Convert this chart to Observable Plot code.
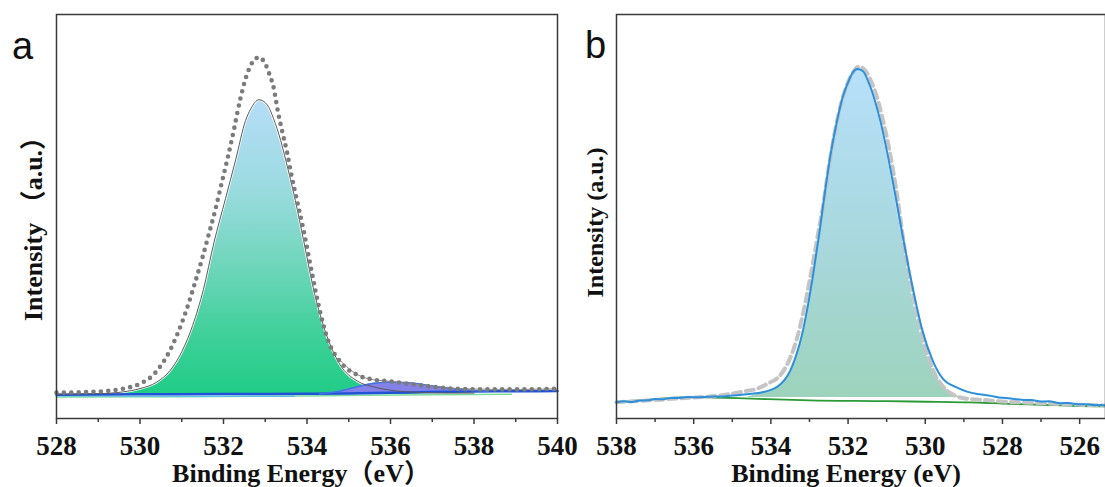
<!DOCTYPE html>
<html><head><meta charset="utf-8">
<script src="https://cdn.jsdelivr.net/npm/d3@7"></script>
<script src="https://cdn.jsdelivr.net/npm/@observablehq/plot@0.6"></script>
<style>
body{margin:0;background:#fff;}
#wrap{position:relative;width:1105px;height:487px;overflow:hidden;background:#fff;}
#wrap svg{position:absolute;top:0;overflow:visible;background:transparent;max-width:none;}
.lbl{position:absolute;font-family:"Liberation Sans",Arial,sans-serif;font-size:38px;line-height:1;color:#111;}
</style></head><body>
<div id="wrap"></div>
<script>
// ---------- Panel a data (y in arbitrary intensity units, frame 0..100) ----------
const aTicksMajor = [528, 530, 532, 534, 536, 538, 540];
const aTicksMinor = [529, 531, 533, 535, 537, 539];
const aXLabel = "Binding Energy（eV）";
const aYLabel = "Intensity （a.u.）";
// raw data (dotted)
const aRawX = [528.0,528.6,529.2,529.6,530.0,530.3,530.5,530.7,530.9,531.1,531.3,531.5,531.65,531.8,531.95,532.1,532.25,532.4,532.55,532.7,532.85,533.0,533.11,533.19,533.31,533.41,533.53,533.62,533.76,533.92,534.1,534.3,534.5,534.8,535.2,535.6,536.0,536.5,536.9,537.5,538.2,539.0,540.0];
const aRawY = [6.4,6.5,6.8,7.4,8.6,10.6,13.1,16.5,21.0,26.5,33.0,40.0,45.7,51.5,58.0,64.5,71.5,79.0,84.8,88.3,89.4,87.8,84.9,82.4,75.6,70.9,65.5,60.6,54.0,46.5,37.0,27.0,19.5,14.0,10.8,9.6,9.2,8.5,8.0,7.4,7.2,7.2,7.35];
// main fitted component
const aMainX = [528.0,529.0,529.6,530.0,530.4,530.73,531.0,531.26,531.52,531.77,532.05,532.29,532.53,532.65,532.85,533.05,533.2,533.37,533.49,533.72,533.92,534.18,534.44,534.78,535.2,535.6,536.0,536.6,537.4,538.0];
const aMainY = [6.0,6.15,6.6,7.4,9.0,12.0,16.5,23.0,32.0,43.5,54.5,64.0,73.8,76.6,78.9,77.6,74.2,68.8,64.0,54.0,44.0,31.0,21.5,13.5,9.3,7.8,7.0,6.5,6.3,6.3];
const aMainBase = 6.0;
// envelope tail (thin gray line)
const aEnvX = [534.8,535.2,535.6,536.0,536.5,537.0,537.5,538.0,539.0,540.0];
const aEnvY = [14.3,10.9,9.6,9.2,8.6,8.0,7.5,7.3,7.2,7.35];
// second (small) component
const aPk2X = [534.3,534.7,535.0,535.3,535.6,535.9,536.2,536.5,536.9,537.3,537.7,538.0,538.3];
const aPk2Y = [6.1,6.6,7.3,8.1,8.7,9.0,9.0,8.8,8.2,7.6,7.2,6.9,6.75];
const aPk2B = [6.1,6.15,6.2,6.2,6.25,6.3,6.35,6.4,6.5,6.55,6.65,6.7,6.72];
// background line (blue)
const aBgX = [528,530,532,534,535,536,537,538,539,540];
const aBgY = [5.9,6.0,6.05,6.1,6.2,6.35,6.55,6.7,6.75,6.8];
// faint lines below baseline
const aGreenX = [528,531,534,537,538.9];
const aGreenY = [5.3,5.4,5.6,5.9,6.0];
const aCyanX = [528,530.5,533.7];
const aCyanY = [5.6,5.5,5.5];

// ---------- Panel b data ----------
const bTicksMajor = [538, 536, 534, 532, 530, 528, 526];
const bTicksMinor = [537, 535, 533, 531, 529, 527];
const bXLabel = "Binding Energy (eV)";
const bYLabel = "Intensity (a.u.)";
const bBlueX = [538.0,537.8,537.6,537.4,537.2,537.0,536.8,536.6,536.4,536.16,535.9,535.6,535.3,535.0,534.75,534.5,534.22,534.0,533.83,533.65,533.5,533.35,533.2,533.05,532.9,532.75,532.6,532.45,532.3,532.14,532.0,531.88,531.76,531.62,531.46,531.3,531.16,530.98,530.8,530.6,530.35,530.08,529.81,529.54,529.16,528.9,528.6,528.3,528.1,527.9,527.7,527.45,527.25,527.0,526.8,526.5,526.3,526.0,525.8,525.6,525.45,525.33];
const bBlueY = [4.0,4.25,4.1,4.45,4.5,4.8,4.75,5.1,5.05,5.3,5.25,5.4,5.45,5.7,5.85,6.1,6.5,7.1,7.9,9.5,11.8,15.5,20.5,27.5,36.0,45.5,56.0,65.5,73.0,79.5,83.2,85.6,86.5,86.0,83.0,78.5,73.5,65.5,56.5,46.0,33.5,22.0,14.4,9.8,7.6,6.6,6.0,5.6,5.2,5.1,4.8,4.6,4.55,4.2,4.25,3.8,3.85,3.5,3.55,3.3,3.35,3.2];
const bFitX = [538.0,537.0,536.0,535.4,535.05,534.7,534.35,534.05,533.83,533.6,533.4,533.25,533.1,532.95,532.8,532.65,532.5,532.35,532.2,532.05,531.9,531.72,531.58,531.42,531.26,531.1,530.93,530.75,530.55,530.3,530.05,529.8,529.55,529.3,529.0,528.5,528.0,527.0,526.0,525.33];
const bFitY = [4.0,4.6,5.2,5.6,6.1,6.7,7.4,8.8,10.0,13.0,17.5,22.5,29.0,36.5,44.5,52.5,62.3,70.6,77.2,82.0,85.2,87.1,86.4,83.8,79.8,74.0,66.5,56.5,43.0,30.0,19.5,12.0,8.0,6.0,5.0,4.6,4.2,3.8,3.4,3.2];
const bCompX = [534.6,534.22,534.0,533.83,533.65,533.5,533.35,533.2,533.05,532.9,532.75,532.6,532.45,532.3,532.14,532.0,531.88,531.76,531.62,531.46,531.3,531.16,530.98,530.8,530.6,530.35,530.08,529.81,529.55,529.3,529.0,528.85];
const bCompY = [5.5,6.5,7.1,7.9,9.5,11.8,15.5,20.5,27.5,36.0,45.5,56.0,65.5,73.0,79.5,83.2,85.6,86.5,86.0,83.0,78.5,73.5,65.5,56.5,45.5,31.5,20.0,12.5,8.5,6.3,5.3,4.9];
const bCompBase = 5.0;
const bGreenX = [538.0,537.2,536.6,536.16,535.5,534.5,533,531,530,529,528.5,528,527,526,525.33];
const bGreenY = [4.0,4.6,5.1,5.3,5.2,4.9,4.5,4.3,4.15,4.0,3.9,3.7,3.4,3.1,3.0];

const rows = (xs, ys, bs) => xs.map((x, i) => ({x, y: ys[i], b: Array.isArray(bs) ? bs[i] : bs}));

const FONT = '"Liberation Serif","Times New Roman","Noto Sans CJK SC",serif';
const baseStyle = {fontFamily: FONT, fontSize: "27px", fontWeight: "bold", color: "#111", background: "transparent", overflow: "visible"};

function addGradient(svg, id, stops) {
  const ns = "http://www.w3.org/2000/svg";
  const defs = document.createElementNS(ns, "defs");
  const g = document.createElementNS(ns, "linearGradient");
  g.setAttribute("id", id);
  g.setAttribute("x1", "0"); g.setAttribute("y1", "0");
  g.setAttribute("x2", "0"); g.setAttribute("y2", "1");
  for (const [o, c] of stops) {
    const s = document.createElementNS(ns, "stop");
    s.setAttribute("offset", o); s.setAttribute("stop-color", c);
    g.appendChild(s);
  }
  defs.appendChild(g);
  svg.insertBefore(defs, svg.firstChild);
}

const curve = "monotone-x";

const plotA = Plot.plot({
  width: 585, height: 487,
  marginLeft: 56, marginRight: 28, marginTop: 14, marginBottom: 69,
  x: {domain: [528, 540]},
  y: {domain: [0, 100], axis: null},
  style: baseStyle,
  marks: [
    Plot.areaY(rows(aMainX, aMainY, aMainBase), {x: "x", y1: "b", y2: "y", fill: "url(#gradA)", curve}),
    Plot.lineY(rows(aMainX, aMainY), {x: "x", y: "y", stroke: "white", strokeWidth: 2.5, curve}),
    Plot.lineY(rows(aGreenX, aGreenY), {x: "x", y: "y", stroke: "#7ddc9a", strokeWidth: 1.5, curve}),
    Plot.lineY(rows(aCyanX, aCyanY), {x: "x", y: "y", stroke: "#5cc0ee", strokeWidth: 1.2, curve}),
    Plot.areaY(rows(aPk2X, aPk2Y, aPk2B), {x: "x", y1: "b", y2: "y", fill: "#8481e8", curve}),
    Plot.lineY(rows(aBgX, aBgY), {x: "x", y: "y", stroke: "#1f52d6", strokeWidth: 2.5, curve}),
    Plot.lineY(rows(aPk2X, aPk2Y), {x: "x", y: "y", stroke: "#3f73e6", strokeWidth: 1.5, curve}),
    Plot.lineY(rows(aMainX, aMainY), {x: "x", y: "y", stroke: "#5a5a5a", strokeWidth: 1, curve}),
    Plot.lineY(rows(aEnvX, aEnvY), {x: "x", y: "y", stroke: "#8a8a8a", strokeWidth: 1, curve}),
    Plot.lineY(rows(aRawX, aRawY), {x: "x", y: "y", stroke: "#7b7b7b", strokeWidth: 4.6, strokeDasharray: "0 7.4", strokeLinecap: "round", curve}),
    Plot.frame({stroke: "#3a3a3a", strokeWidth: 1.5}),
    Plot.axisX({ticks: aTicksMajor, tickSize: 6, tickPadding: 11, tickFormat: d => String(d), label: null, stroke: "#3a3a3a", strokeWidth: 1.5, fill: "#111"}),
    Plot.axisX({ticks: aTicksMinor, tickSize: 4, tickFormat: () => "", label: null, stroke: "#3a3a3a", strokeWidth: 1.5}),
    Plot.text([aXLabel], {frameAnchor: "bottom", dx: -6, dy: 55, lineAnchor: "middle", fontSize: 26, fill: "#111"}),
    Plot.text([aYLabel], {frameAnchor: "left", rotate: -90, dx: -23, dy: 6, lineAnchor: "middle", textAnchor: "middle", fontSize: 26, fill: "#111"})
  ]
});
addGradient(plotA, "gradA", [["0", "#b6dcf8"], ["0.3", "#9bdbe0"], ["0.55", "#72d6bd"], ["0.8", "#3fd09a"], ["1", "#20cc86"]]);

const plotB = Plot.plot({
  width: 545, height: 487,
  marginLeft: 56, marginRight: 0, marginTop: 14, marginBottom: 69,
  x: {domain: [538, 525.33]},
  y: {domain: [0, 100], axis: null},
  style: baseStyle,
  marks: [
    Plot.areaY(rows(bCompX, bCompY, bCompBase), {x: "x", y1: "b", y2: "y", fill: "url(#gradB)", stroke: "white", strokeWidth: 1.5, curve}),
    Plot.lineY(rows(bGreenX, bGreenY), {x: "x", y: "y", stroke: "#2a9a36", strokeWidth: 1.8, curve}),
    Plot.lineY(rows(bFitX, bFitY), {x: "x", y: "y", stroke: "#c4c4c4", strokeWidth: 4, strokeDasharray: "8 5", curve}),
    Plot.lineY(rows(bBlueX, bBlueY), {x: "x", y: "y", stroke: "#2b8fdc", strokeWidth: 2, curve}),
    Plot.frame({stroke: "#3a3a3a", strokeWidth: 1.5}),
    Plot.axisX({ticks: bTicksMajor, tickSize: 6, tickPadding: 11, tickFormat: d => String(d), label: null, stroke: "#3a3a3a", strokeWidth: 1.5, fill: "#111"}),
    Plot.axisX({ticks: bTicksMinor, tickSize: 4, tickFormat: () => "", label: null, stroke: "#3a3a3a", strokeWidth: 1.5}),
    Plot.text([bXLabel], {frameAnchor: "bottom", dx: -15, dy: 55, lineAnchor: "middle", fontSize: 26, fill: "#111"}),
    Plot.text([bYLabel], {frameAnchor: "left", rotate: -90, dx: -21, dy: 6, lineAnchor: "middle", textAnchor: "middle", fontSize: 24, fill: "#111"})
  ]
});
addGradient(plotB, "gradB", [["0", "#b7e0fa"], ["0.5", "#a9d8df"], ["1", "#9dd3bc"]]);

const wrap = document.getElementById("wrap");
plotA.style.left = "0px";
plotB.style.left = "560px";
wrap.appendChild(plotA);
wrap.appendChild(plotB);
const la = document.createElement("div"); la.className = "lbl"; la.textContent = "a"; la.style.left = "12px"; la.style.top = "27px";
const lb = document.createElement("div"); lb.className = "lbl"; lb.textContent = "b"; lb.style.left = "585px"; lb.style.top = "26px";
wrap.appendChild(la); wrap.appendChild(lb);
</script></body></html>
